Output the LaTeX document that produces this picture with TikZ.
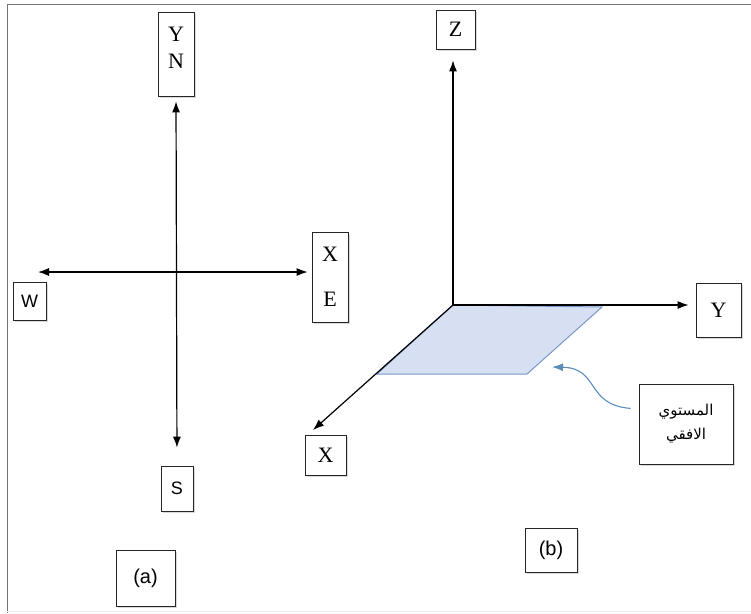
\documentclass[tikz,border=0pt]{standalone}
\usepackage{fontspec}
\setmainfont{Liberation Serif}
\newfontfamily\arialfont{Liberation Sans}
\newfontfamily\arabicfont[Script=Arabic]{DejaVu Sans}
\TeXXeTstate=1
\usepackage{tikz}
\usetikzlibrary{arrows.meta,positioning,shadows,calc}

\definecolor{planefill}{RGB}{214,224,242}
\definecolor{planeedge}{RGB}{120,150,200}
\definecolor{pointer}{RGB}{92,140,188}

\begin{document}
\begin{tikzpicture}[x=1pt, y=-1pt, >={Latex[length=11pt,width=8pt]},
  every node/.style={font=\fontsize{22}{27}\selectfont},
  axisbox/.style={rectangle, draw=black!85, line width=0.8pt, fill=white, inner sep=0pt,
    drop shadow={shadow xshift=1.5pt, shadow yshift=-1.5pt, opacity=0.3}},
  sanslbl/.style={font=\arialfont\fontsize{18}{22}\selectfont},
  axisline/.style={line width=1.2pt}]

\useasboundingbox (0,0) rectangle (751,613);
\draw[black!55, line width=1pt] (7,613) -- (7,4) -- (751,4);
\draw[black!8] (7,611) -- (751,611);

% (a) compass cross
\node[axisbox, minimum width=36pt, minimum height=84pt, align=center] (yn) at (176,54) {Y\\N\\[-15pt]\mbox{}};
\node[axisbox, minimum width=36pt, minimum height=90pt, align=center] (xe) at (330,277) {X\\[18pt]E};
\node[axisbox, sanslbl, minimum width=33pt, minimum height=38pt] (w) at (29.5,301) {W};
\node[axisbox, sanslbl, minimum width=32pt, minimum height=45pt] (s) at (177,488.5) {S};
\node[axisbox, font=\arialfont\fontsize{20}{24}\selectfont, minimum width=59pt, minimum height=56pt] (capa) at (145.5,578) {(a)};

\coordinate (wtip) at (38,272);
\draw[axisline,<->, shorten <=5pt, shorten >=18pt] (yn.south) -- (s.north);
\draw[axisline,<->, shorten >=4pt] (wtip) -- (wtip -| xe.west);

% (b) 3D axes with horizontal plane
\node[axisbox, minimum width=39pt, minimum height=39pt] (z) at (455.5,29.5) {Z};
\node[axisbox, minimum width=45pt, minimum height=54pt] (y) at (718.5,310) {Y};
\node[axisbox, minimum width=41pt, minimum height=40pt] (x) at (325.5,455) {X};
\node[axisbox, minimum width=94pt, minimum height=80pt, align=center,
  font=\arabicfont\fontsize{15}{24}\selectfont] (plane) at (686,424)
  {\beginR المستوي\endR\\\beginR الافقي\endR};
\node[axisbox, font=\arialfont\fontsize{20}{24}\selectfont, minimum width=52pt, minimum height=44pt] (capb) at (551,550) {(b)};

\coordinate (o) at (453,305);
\coordinate (xtip) at (313,430);
\coordinate (ptip) at (552,367);

\draw[planeedge, fill=planefill, line width=1pt] (o) -- (602,307) -- (527,374) -- (377,374) -- cycle;

\draw[axisline,->, shorten >=11pt] (o) -- (o |- z.south);
\draw[axisline,->, shorten >=7pt] (o) -- (o -| y.west);
\draw[axisline,->] (o) -- (xtip);

\draw[pointer, line width=1.1pt, ->, shorten <=8pt] ([yshift=15pt]plane.west)
  .. controls (585,405) and (600,368) .. (ptip);

\end{tikzpicture}
\end{document}
